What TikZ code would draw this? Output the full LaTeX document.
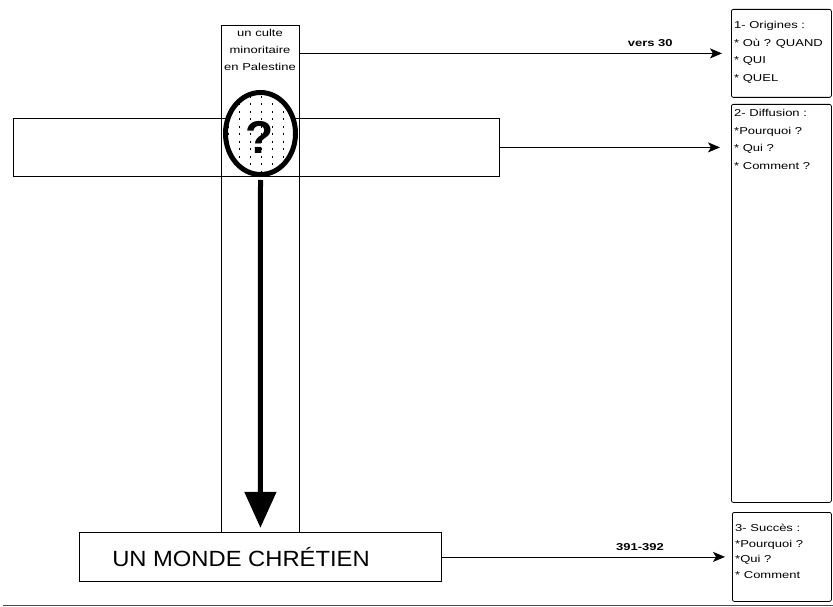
\documentclass[tikz,border=0pt]{standalone}
\usepackage{fontspec}
\setmainfont{Liberation Sans}
\newfontfamily\widefont[FakeStretch=1.3]{Liberation Sans}
\newfontfamily\titlefont[FakeStretch=1.08]{Liberation Sans}
\usepackage{tikz}
\usetikzlibrary{arrows.meta,shapes.geometric}

\begin{document}
\begin{tikzpicture}[x=1pt,y=-1pt,
  box/.style={draw, line width=0.8pt, inner sep=0pt},
  note/.style={draw, line width=0.8pt, rounded corners=2pt, inner sep=0pt},
  notetext/.style={font=\widefont\fontsize{10}{17.7}\selectfont, align=left, anchor=north west, inner sep=0pt},
  link/.style={line width=0.8pt, -{Stealth[length=12pt,width=10pt,inset=3pt]}},
  date/.style={font=\widefont\bfseries\fontsize{10}{12}\selectfont, above=3pt}]
  \useasboundingbox (0,0) rectangle (833,607);
  % the cross
  \node[box, minimum width=486, minimum height=58, anchor=north west] (hbar) at (13,118) {};
  \node[box, minimum width=78, minimum height=507, anchor=north west] (vbar) at (221,25) {};
  \node[font=\widefont\fontsize{10}{17}\selectfont, align=center, anchor=north, inner sep=0pt] (culte) at (260,29) {un culte\\minoritaire\\en Palestine};
  % question mark, dotted inside
  \node[ellipse, draw, line width=5pt, minimum width=70, minimum height=82, inner sep=0pt, fill=white] (q) at (260.5,133.5) {};
  \begin{scope}
    \clip (q.center) ellipse[x radius=33, y radius=39];
    \foreach \i in {-3,...,3}
      \foreach \j in {-5,...,5}
        \fill ([shift={(\i*11,\j*7.5)}]q.center) rectangle +(1,2);
  \end{scope}
  \node[font=\bfseries\fontsize{46}{46}\selectfont, inner sep=0pt] (qmark) at (259.5,137) {?};
  \draw[line width=5pt, shorten <=3pt, shorten >=5pt, -{Triangle[width=31pt,length=36pt]}] (q.south) -- (vbar.south);
  % bottom box
  \node[box, minimum width=362, minimum height=49, anchor=north west] (mbox) at (79,532) {};
  \node[font=\titlefont\fontsize{22}{22}\selectfont, inner sep=0pt] (monde) at (241,557) {UN MONDE CHRÉTIEN};
  % notes on the right
  \node[note, minimum width=100, minimum height=88, anchor=north west] (orig) at (731,9) {};
  \node[notetext] (origtext) at (734,21) {1- Origines :\\* Où ? QUAND\\* QUI\\* QUEL};
  \node[note, minimum width=100, minimum height=398, anchor=north west] (diff) at (731,104) {};
  \node[notetext] (difftext) at (734,109) {2- Diffusion :\\*Pourquoi ?\\* Qui ?\\* Comment ?};
  \node[note, minimum width=99, minimum height=89, anchor=north west] (succ) at (732,512) {};
  \node[notetext, font=\widefont\fontsize{10}{15.7}\selectfont] (succtext) at (735,524) {3- Succès :\\*Pourquoi ?\\*Qui ?\\* Comment};
  % links
  \draw[link] (vbar.east |- orig.west) -- ([xshift=-9pt]orig.west) node[date, pos=0.83] {vers 30};
  \draw[link] (hbar.east) -- ([xshift=-11pt]hbar.east -| diff.west);
  \draw[link] (mbox.east) -- ([xshift=-7pt]succ.west) node[date, pos=0.7] {391-392};
  % rule at the foot
  \draw[black!70, line width=1pt] (3,605) -- (833,605);
\end{tikzpicture}
\end{document}
